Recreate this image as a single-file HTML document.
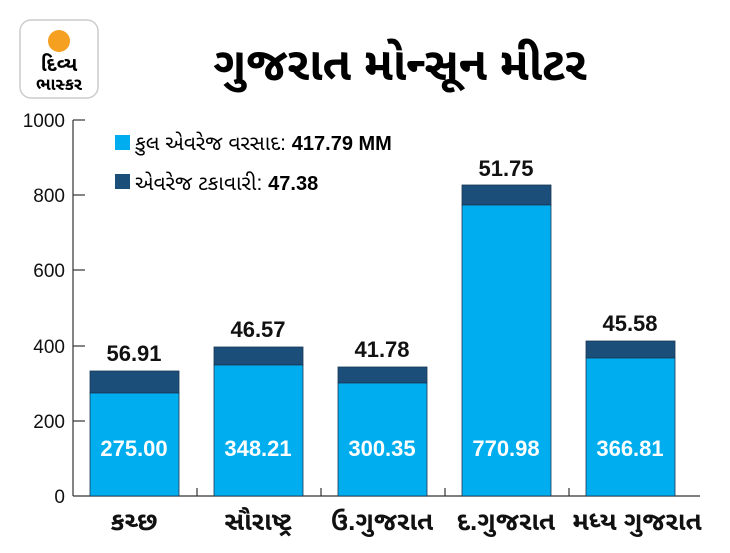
<!DOCTYPE html>
<html><head><meta charset="utf-8"><style>
body{margin:0;width:730px;height:548px;background:#fff;overflow:hidden;font-family:"Liberation Sans","Noto Sans Gujarati",sans-serif}
</style></head><body>
<svg width="730" height="548" xmlns="http://www.w3.org/2000/svg" font-family="Liberation Sans, Noto Sans Gujarati, sans-serif">
<rect x="20" y="20" width="78" height="78" rx="11" fill="#fff" stroke="#ccc" stroke-width="1.5"/>
<circle cx="59" cy="41" r="11" fill="#f5a020"/>
<text x="59" y="71" font-size="20" font-weight="bold" text-anchor="middle">દિવ્ય</text>
<text x="59" y="90" font-size="17" font-weight="bold" text-anchor="middle">ભાસ્કર</text>
<text x="400" y="80" font-size="46" font-weight="bold" text-anchor="middle">ગુજરાત મોન્સૂન મીટર</text>
<g stroke="#333" stroke-width="1.2" fill="none">
<line x1="73" y1="120" x2="73" y2="496"/>
<line x1="73" y1="496" x2="700" y2="496"/>
<line x1="73" y1="120" x2="85" y2="120"/><line x1="73" y1="195" x2="85" y2="195"/><line x1="73" y1="270" x2="85" y2="270"/><line x1="73" y1="346" x2="85" y2="346"/><line x1="73" y1="421" x2="85" y2="421"/>
<line x1="197" y1="496" x2="197" y2="488"/><line x1="321" y1="496" x2="321" y2="488"/><line x1="445" y1="496" x2="445" y2="488"/><line x1="569" y1="496" x2="569" y2="488"/>
</g>
<g font-size="19" text-anchor="end" fill="#111">
<text x="65" y="127">1000</text><text x="65" y="202">800</text><text x="65" y="277">600</text><text x="65" y="353">400</text><text x="65" y="428">200</text><text x="65" y="503">0</text>
</g>
<rect x="115" y="135" width="15" height="15" fill="#00aeef"/>
<text x="135" y="150" font-size="21">કુલ એવરેજ વરસાદ: <tspan font-weight="bold" font-size="20">417.79 MM</tspan></text>
<rect x="115" y="174" width="15" height="15" fill="#1b4f7a"/>
<text x="135" y="190" font-size="21">એવરેજ ટકાવારી: <tspan font-weight="bold" font-size="20">47.38</tspan></text>
<g stroke="#1a3550" stroke-width="0.8">
<rect x="90" y="371" width="89" height="22" fill="#1b4f7a"/><rect x="90" y="393" width="89" height="103" fill="#00aeef"/>
<rect x="214" y="347" width="89" height="18" fill="#1b4f7a"/><rect x="214" y="365" width="89" height="131" fill="#00aeef"/>
<rect x="338" y="367" width="89" height="16" fill="#1b4f7a"/><rect x="338" y="383" width="89" height="113" fill="#00aeef"/>
<rect x="462" y="185" width="89" height="20" fill="#1b4f7a"/><rect x="462" y="205" width="89" height="291" fill="#00aeef"/>
<rect x="586" y="341" width="89" height="17" fill="#1b4f7a"/><rect x="586" y="358" width="89" height="138" fill="#00aeef"/>
</g>
<g font-size="22" font-weight="bold" text-anchor="middle" fill="#111">
<text x="134" y="361">56.91</text><text x="258" y="337">46.57</text><text x="382" y="357">41.78</text><text x="506" y="176">51.75</text><text x="630" y="331">45.58</text>
</g>
<g font-size="22" font-weight="bold" text-anchor="middle" fill="#fff">
<text x="134" y="456">275.00</text><text x="258" y="456">348.21</text><text x="382" y="456">300.35</text><text x="506" y="456">770.98</text><text x="630" y="456">366.81</text>
</g>
<g font-size="26" font-weight="bold" text-anchor="middle" fill="#111">
<text x="134" y="530">કચ્છ</text><text x="258" y="530">સૌરાષ્ટ્ર</text><text x="382" y="530">ઉ.ગુજરાત</text><text x="506" y="530">દ.ગુજરાત</text><text x="637" y="530">મધ્ય ગુજરાત</text>
</g>
</svg>
</body></html>
